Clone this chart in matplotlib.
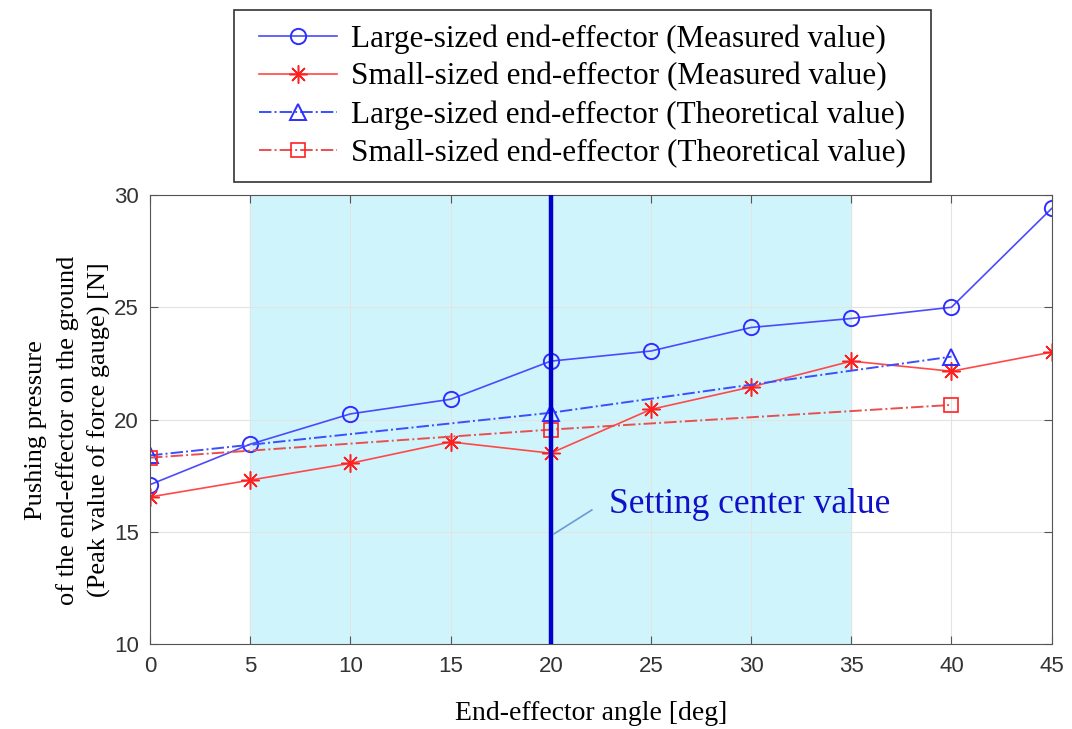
import matplotlib.pyplot as plt
from matplotlib.patches import Rectangle

# data
angles = [0, 5, 10, 15, 20, 25, 30, 35, 40, 45]
large_measured = [17.1, 18.9, 20.25, 20.9, 22.6, 23.05, 24.1, 24.5, 25.0, 29.4]
small_measured = [16.55, 17.3, 18.05, 19.0, 18.5, 20.45, 21.45, 22.6, 22.15, 23.0]

theory_angles = [0, 20, 40]
large_theory = [18.4, 20.3, 22.8]
small_theory = [18.3, 19.55, 20.65]

band = [5, 35]
center = 20

serif = ['Liberation Serif', 'DejaVu Serif']
tick_font = ['Liberation Sans', 'DejaVu Sans']

# MATLAB style asterisk marker
asterisk = (8, 2, 0)


def main():
    fig = plt.figure(figsize=(10.72, 7.29), dpi=100)
    ax = fig.add_axes([0.140, 0.1166, 0.841, 0.6159])

    # recommended range
    ax.axvspan(band[0], band[1], color='#d0f4fc', zorder=0)
    ax.axvline(center, color='#0000cc', lw=3.2, zorder=5)

    l1, = ax.plot(angles, large_measured, '-', marker='o', color='#4a4aff',
                  lw=1.2, mfc='none', mec='#2e2eff', ms=11, mew=1.4)
    l2, = ax.plot(angles, small_measured, '-', marker=asterisk,
                  color='#ff4848', lw=1.2, mec='#ff2020', ms=13, mew=1.1)
    l3, = ax.plot(theory_angles, large_theory, '-.', marker='^',
                  color='#3a4fff', lw=1.4, mfc='none', mec='#2e2eff',
                  ms=11, mew=1.4)
    l4, = ax.plot(theory_angles, small_theory, '-.', marker='s',
                  color='#e85050', lw=1.4, mfc='none', mec='#ff2020',
                  ms=10, mew=1.2)

    ax.set_xlim(0, 45)
    ax.set_ylim(10, 30)
    ax.set_xticks(range(0, 46, 5))
    ax.set_yticks(range(10, 31, 5))
    ax.grid(True, color='#e3e3e3', lw=0.8)
    ax.set_axisbelow(True)
    ax.tick_params(direction='in', top=True, right=True, length=6,
                   labelsize=16, labelcolor='#333333', color='#555555')
    ax.tick_params(axis='x', pad=9)
    ax.tick_params(axis='y', pad=8)
    for lab in ax.get_xticklabels() + ax.get_yticklabels():
        lab.set_family(tick_font)
    for s in ax.spines.values():
        s.set_color('#555555')

    ax.set_xlabel('End-effector angle [deg]', fontsize=20, family=serif)
    ax.xaxis.set_label_coords(0.489, -0.127)
    ax.set_ylabel('Pushing pressure\nof the end-effector on the ground\n'
                  '(Peak value of force gauge) [N]', fontsize=19,
                  family=serif, linespacing=1.5)
    ax.yaxis.set_label_coords(-0.043, 0.477)

    # annotation for the centre line
    ax.plot([20.15, 22.05], [14.9, 15.97], color='#6a9ad8', lw=1.2, zorder=6)
    ax.text(22.9, 16.2, 'Setting center value', fontsize=25.5, family=serif,
            color='#1010c8', va='center', ha='left', zorder=6)

    # legend box drawn separately so the padding matches the original
    fig.patches.append(Rectangle((0.2183, 0.7503), 0.6502, 0.2359,
                                 transform=fig.transFigure, fill=True,
                                 facecolor='white', edgecolor='#333333',
                                 lw=1.2, zorder=0))
    fig.legend([l1, l2, l3, l4],
               ['Large-sized end-effector (Measured value)',
                'Small-sized end-effector (Measured value)',
                'Large-sized end-effector (Theoretical value)',
                'Small-sized end-effector (Theoretical value)'],
               loc='center', bbox_to_anchor=(0.5434, 0.8683),
               prop={'family': serif, 'size': 22.5}, frameon=False,
               handlelength=2.5, handletextpad=0.45, labelspacing=0.28)

    fig.savefig('out.png', dpi=100)


if __name__ == "__main__":
    main()
